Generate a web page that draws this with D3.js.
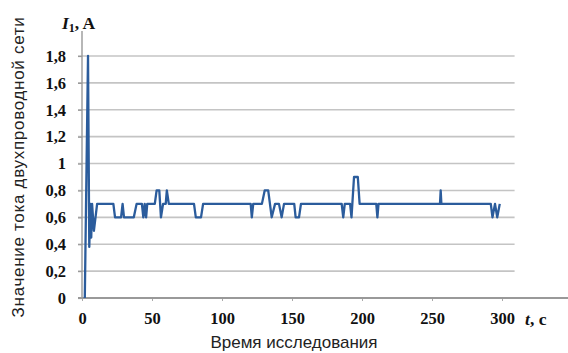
<!DOCTYPE html>
<html>
<head>
<meta charset="utf-8">
<script src="https://cdn.jsdelivr.net/npm/d3@7"></script>
<style>
  html, body { margin: 0; padding: 0; background: #fff; }
  svg { display: block; }
</style>
</head>
<body>
<svg id="chart" width="568" height="353"></svg>
<script>
// Current of the two-wire line over the measurement time
const times = [2, 4.3, 5.2, 6.0, 6.6, 7.2, 8.5, 10.8,
  22.4, 23.6, 27.9, 29.0, 30.0, 37.0, 39.0, 42.8, 43.8, 44.8, 45.8, 46.6, 47.5,
  52.0, 53.3, 55.2, 56.4, 57.9, 59.8, 60.6, 62.0,
  80.0, 81.3, 85.0, 86.5,
  120.5, 121.3, 122.3, 128.5, 130.5, 133.0, 135.5, 137.9, 140.7, 142.6, 144.3,
  151.6, 152.6, 155.0, 156.4,
  185.5, 186.6, 187.7, 191.5, 192.5, 194.3, 197.0, 198.3,
  210.2, 211.0, 211.8, 255.7, 256.2, 256.7,
  292.0, 293.2, 295.0, 296.6, 298.4];
const currents = [0, 1.8, 0.38, 0.7, 0.45, 0.7, 0.5, 0.7,
  0.7, 0.6, 0.6, 0.7, 0.6, 0.6, 0.7, 0.7, 0.6, 0.7, 0.6, 0.7, 0.7,
  0.7, 0.8, 0.8, 0.6, 0.7, 0.7, 0.8, 0.7,
  0.7, 0.6, 0.6, 0.7,
  0.7, 0.6, 0.7, 0.7, 0.8, 0.8, 0.6, 0.7, 0.7, 0.6, 0.7,
  0.7, 0.6, 0.6, 0.7,
  0.7, 0.6, 0.7, 0.7, 0.6, 0.9, 0.9, 0.7,
  0.7, 0.6, 0.7, 0.7, 0.8, 0.7,
  0.7, 0.6, 0.7, 0.6, 0.7];

const yTicks = [0, 0.2, 0.4, 0.6, 0.8, 1, 1.2, 1.4, 1.6, 1.8];
const xTicks = [0, 50, 100, 150, 200, 250, 300];

const svg = d3.select("#chart");
const x = d3.scaleLinear().domain([0, 300]).range([82, 502]);
const y = d3.scaleLinear().domain([0, 1.8]).range([298, 56]);
const fmt = v => String(v).replace(".", ",");
const gridEnd = x(309);
const serif = "'Liberation Serif', 'Times New Roman', serif";
const sans = "'Liberation Sans', Arial, sans-serif";

// horizontal grid lines
svg.append("g")
  .selectAll("line")
  .data(yTicks.filter(v => v > 0))
  .join("line")
  .attr("x1", x(0) - 4).attr("x2", gridEnd)
  .attr("y1", d => y(d)).attr("y2", d => y(d))
  .attr("stroke", "#c4c4c4").attr("stroke-width", 1.6);

// y axis
const yAxis = svg.append("g")
  .attr("transform", `translate(${x(0)},0)`)
  .call(d3.axisLeft(y).tickValues(yTicks).tickFormat(fmt).tickSize(4).tickPadding(12));
yAxis.select(".domain").remove();
yAxis.selectAll(".tick line").attr("stroke", "#999").attr("stroke-width", 1.2);
yAxis.selectAll(".tick text")
  .attr("font-family", serif)
  .attr("font-weight", "bold").attr("font-size", 16.5).attr("fill", "#111");
svg.append("line")
  .attr("x1", x(0)).attr("x2", x(0)).attr("y1", 31).attr("y2", y(0))
  .attr("stroke", "#999").attr("stroke-width", 1.4);

// x axis
const xAxis = svg.append("g")
  .attr("transform", `translate(0,${y(0)})`)
  .call(d3.axisBottom(x).tickValues(xTicks).tickFormat(d3.format("d")).tickSize(3).tickPadding(11));
xAxis.select(".domain").remove();
xAxis.selectAll(".tick line").attr("stroke", "#aaa").attr("stroke-width", 1);
xAxis.selectAll(".tick text")
  .attr("font-family", serif)
  .attr("font-weight", "bold").attr("font-size", 16.5).attr("fill", "#111");
svg.append("line")
  .attr("x1", x(0) - 4).attr("x2", 568).attr("y1", y(0)).attr("y2", y(0))
  .attr("stroke", "#999").attr("stroke-width", 2);

// current trace
const line = d3.line().x((d, i) => x(times[i])).y(d => y(d));
svg.append("path")
  .datum(currents)
  .attr("d", line)
  .attr("fill", "none")
  .attr("stroke", "#2b5c9c")
  .attr("stroke-width", 2.3)
  .attr("stroke-linejoin", "round");

// axis titles
const yt = svg.append("text")
  .attr("x", 62).attr("y", 29)
  .attr("font-family", serif).attr("font-weight", "bold").attr("font-size", 17.5).attr("fill", "#111");
yt.append("tspan").attr("font-style", "italic").text("I");
yt.append("tspan").attr("font-size", 12).attr("dy", 3).text("1");
yt.append("tspan").attr("dy", -3).text(", A");

const xt = svg.append("text")
  .attr("x", 525).attr("y", 325)
  .attr("font-family", serif).attr("font-weight", "bold").attr("font-size", 17.5).attr("fill", "#111");
xt.append("tspan").attr("font-style", "italic").text("t");
xt.append("tspan").text(", c");

svg.append("text")
  .attr("x", 294).attr("y", 348)
  .attr("text-anchor", "middle")
  .attr("font-family", sans)
  .attr("font-size", 17).attr("fill", "#222")
  .text("Время исследования");

svg.append("text")
  .attr("transform", "translate(24,167) rotate(-90)")
  .attr("text-anchor", "middle")
  .attr("font-family", sans)
  .attr("font-size", 17).attr("letter-spacing", 0.7).attr("fill", "#222")
  .text("Значение тока двухпроводной сети");
</script>
</body>
</html>
